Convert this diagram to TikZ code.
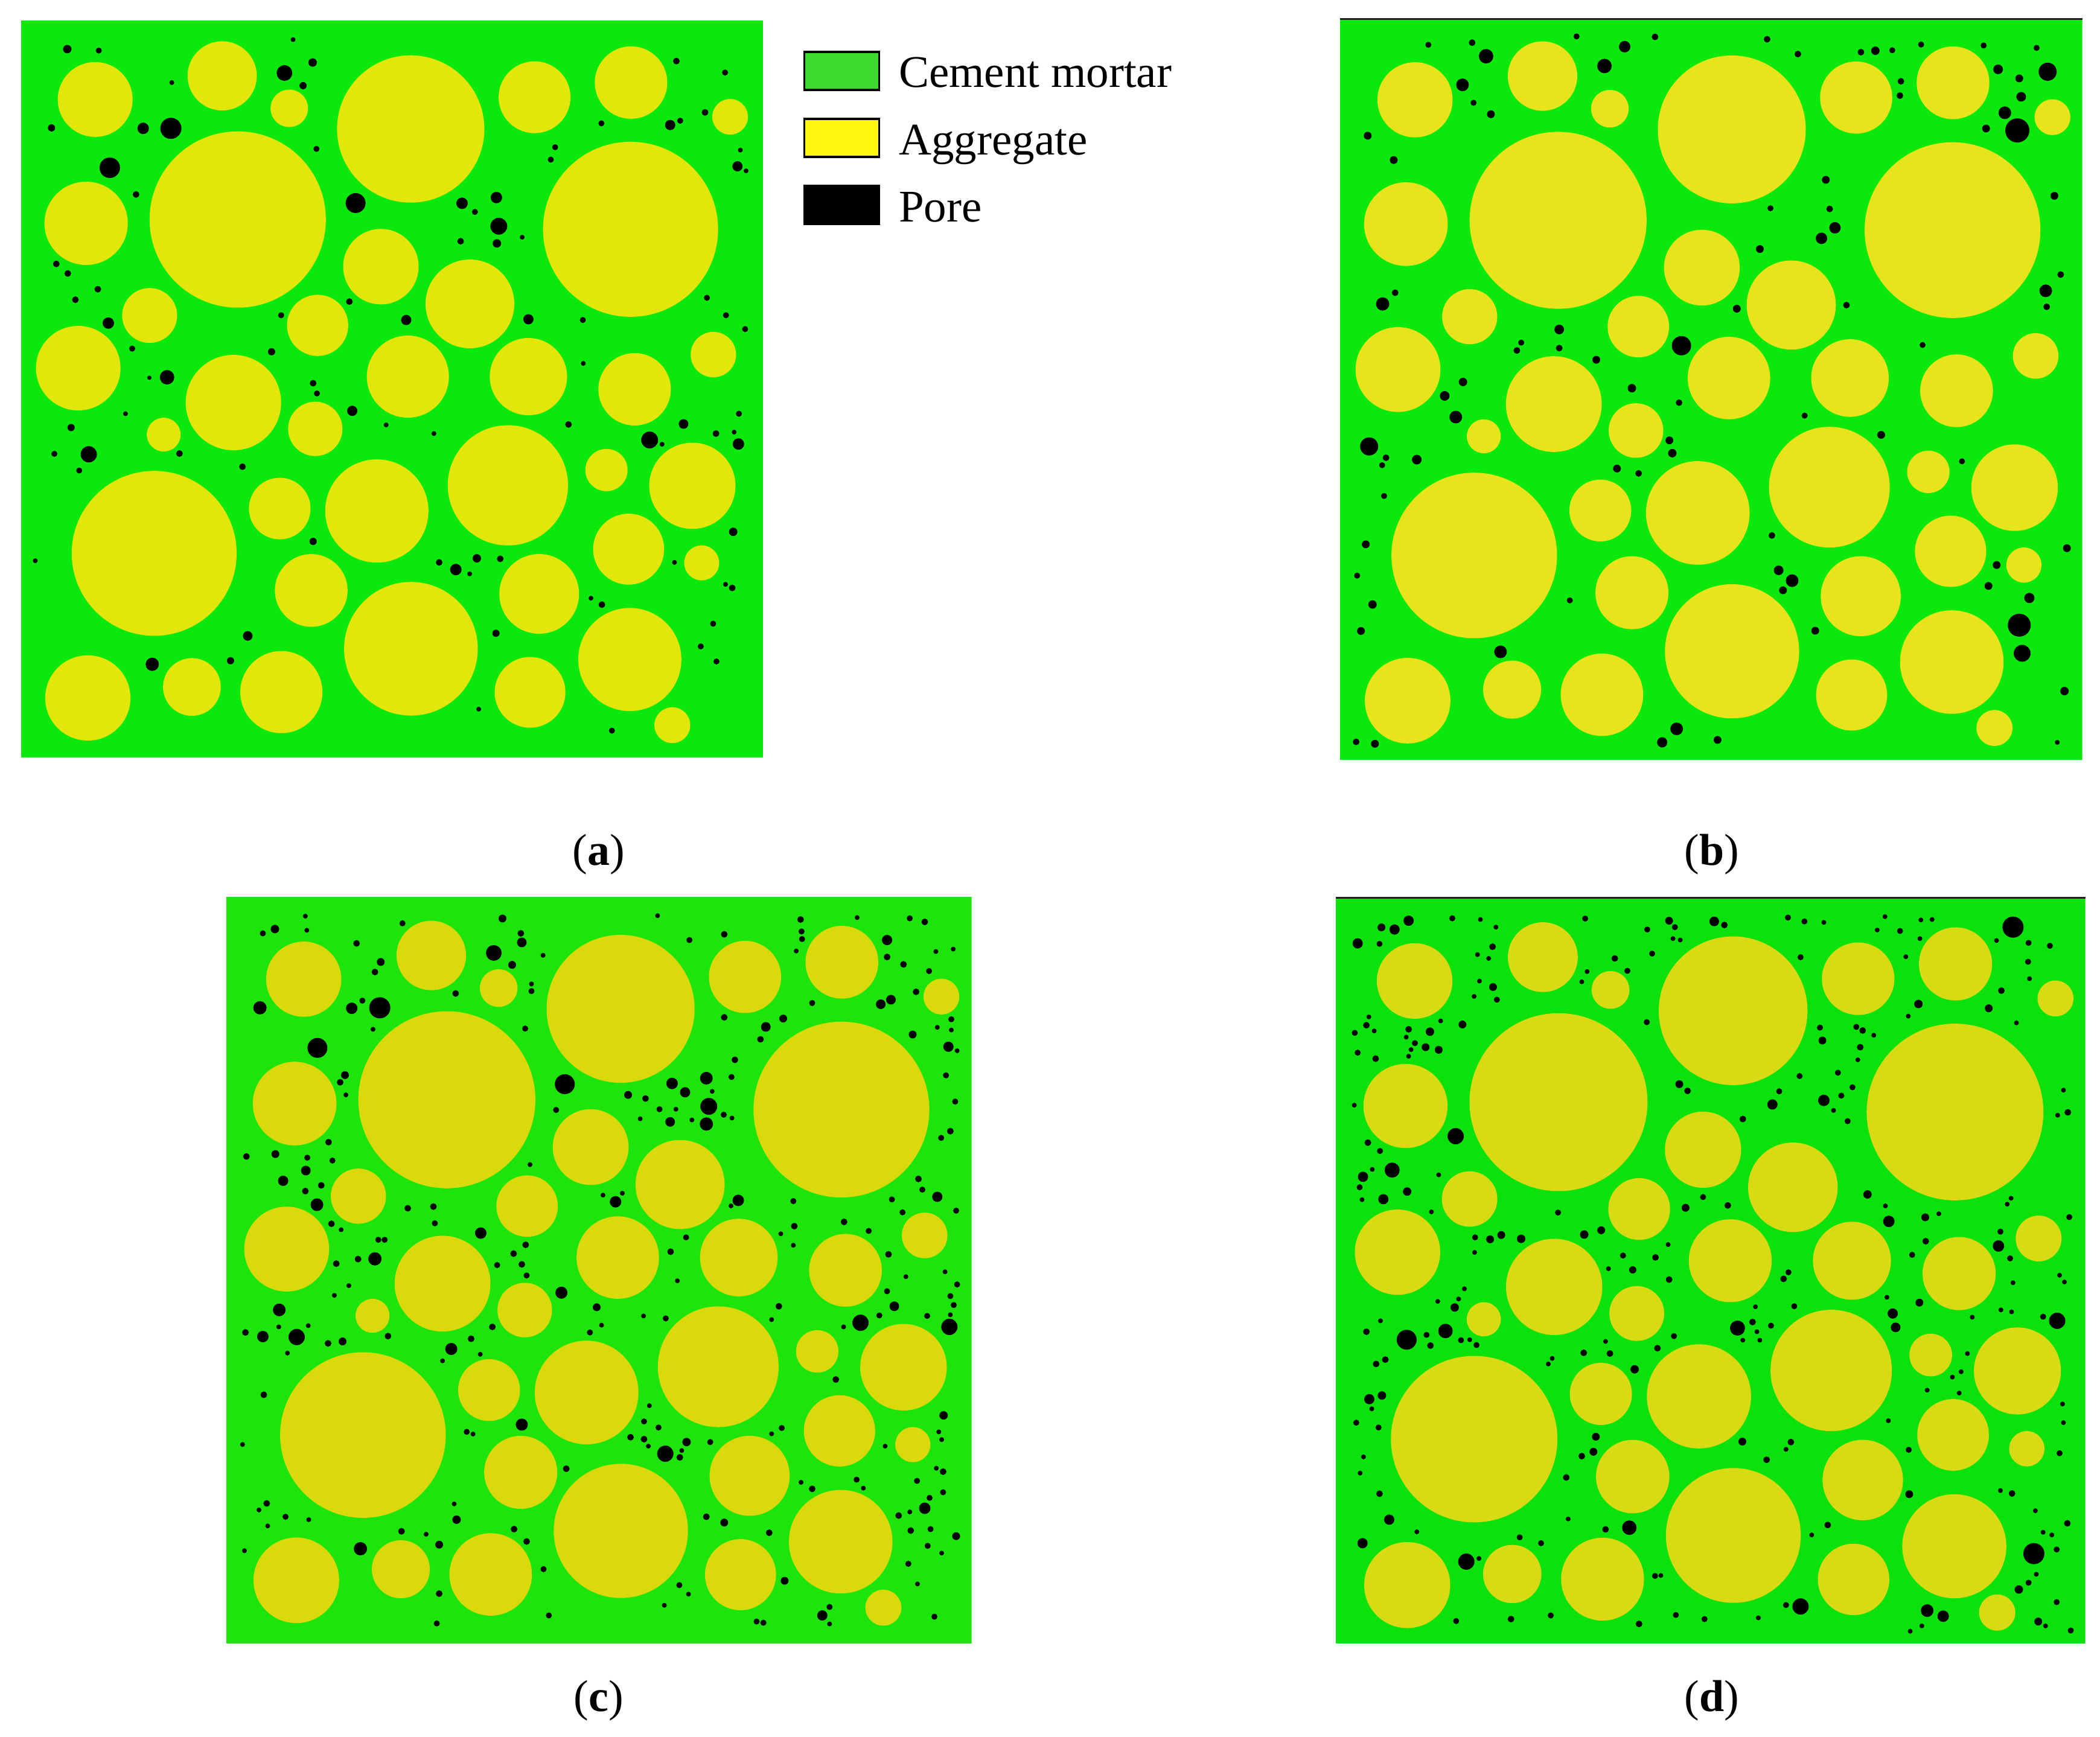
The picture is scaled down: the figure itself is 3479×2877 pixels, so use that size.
\documentclass[tikz,border=0pt]{standalone}
\usepackage{fontspec}
\setmainfont{Liberation Serif}
\definecolor{greenA}{HTML}{0BE80B}
\definecolor{yellowA}{HTML}{E3E60A}
\definecolor{greenB}{HTML}{0BE80B}
\definecolor{yellowB}{HTML}{E8E41C}
\definecolor{greenC}{HTML}{1DE40B}
\definecolor{yellowC}{HTML}{DAD90C}
\definecolor{greenD}{HTML}{0BE20B}
\definecolor{yellowD}{HTML}{D8DA14}
\definecolor{legGreen}{HTML}{3CDC2C}
\definecolor{legYellow}{HTML}{FFF70F}
\newcommand\aggcircles[1]{%
  \foreach \cx/\cy/\cr in {122.7/130.8/62, 333.1/91.7/57.3, 444.2/145.5/31, 645.4/179.7/122,
    850.6/127.1/59.5, 1010.4/102.8/60, 1174.5/159.5/29.5, 358.8/329.7/146, 107.7/336/69,
    1009.6/345.9/145, 596/407.8/62.5, 743.5/469.5/73.5, 212.9/488.7/45.5, 491.2/505.1/50.7,
    1146.8/553.5/37.6, 94.6/576/70, 351.7/633/79, 640.7/590/68, 840.4/590/64, 1016.3/611/60,
    236.2/686.1/28, 487.3/676.6/45, 806.4/770.1/99.6, 969.7/744.8/35, 1112/770.9/71.4,
    220.4/882.8/136.6, 428.4/808.6/51, 589.3/812.6/85.5, 1006.4/875.9/58.8, 1127.4/898.6/29,
    480.6/944.3/60.2, 858.2/950/66, 645.8/1040.9/110.7, 1008.4/1058.7/85.4, 110.5/1122.4/70.6,
    282.9/1104.2/47.8, 431.1/1112.7/68, 843.1/1113.1/58.6, 1078.8/1167.5/29.7}
  {\fill[#1] (\cx,\cy) circle[radius=\cr];}}
\newcommand\porefill[1]{%
  \foreach \px/\py/\pr in {#1} {\fill[pore] (\px,\py) circle[radius=\pr pt];}}
\tikzset{
  pore/.style={fill=black},
  legbox/.style={draw=black, line width=3.5pt, minimum width=124pt, minimum height=63pt, inner sep=0pt},
  legtext/.style={anchor=base west, inner sep=0pt, font=\fontsize{75}{88}\selectfont},
  captext/.style={anchor=base, inner sep=0pt, font=\fontsize{74}{88}\selectfont},
  topline/.style={line width=3pt, color=black!88}
}
\begin{document}
\begin{tikzpicture}[x=1pt,y=-1pt]
\useasboundingbox (0,0) rectangle (3479,2877);
\fill[white] (0,0) rectangle (3479,2877);

% ---------------- panel (a)
\begin{scope}
\clip (35,34) rectangle (1264,1255);
\fill[greenA] (35,34) rectangle (1264,1255);
\begin{scope}[shift={(35pt,-34pt)}] \aggcircles{yellowA} \end{scope}
\begin{scope}[shift={(30pt,-30pt)}, x=0.7908pt, y=-0.3954pt]
\porefill{103/130/7, 169/136/5, 576/90/4, 617/186/7, 558/230/13, 322/270/4, 597/283/6, 70/460/6, 262/462/9.5, 320/462/17.5, 625/548/5, 192/627/17, 247/739/5.5, 707/775/16.5, 930/776/9.5, 1002/752/9.5, 957/812/5, 1007/872/14, 927/935/5.5, 1003/944/7, 1056/918/4, 1125/541/5, 1116/593/5, 1222/441/5, 1366/448/8.5, 1387/430/5, 1439/395/5.5, 1379/180/5.5, 1481/228/5, 1513/553/4, 1507/621/8.5, 1525/640/4, 80/1030/5.5, 104/1070/5.5, 167/1136/5.5, 120/1180/5.5, 189/1278/9.5, 694/1188/5.5, 551/1245/5, 813/1265/8.5, 1069/1262/8.5, 1183/1265/5, 1443/1172/5, 1483/1245/5, 1523/1303/5, 239/1385/5, 531/1398/6, 1184/1447/4, 312/1505/12, 275/1507/3.5, 618/1530/5.5}
\end{scope}
\begin{scope}[shift={(30pt,-640pt)}, x=0.7908pt, y=-0.3954pt]
\porefill{626/30/5, 700/103/8.5, 225/115/4, 111/173/6, 771/162/4, 871/198/4, 1153/160/5.5, 1394/158/8, 1510/115/5, 1462/198/5.5, 1500/192/4, 1323/225/14, 1349/243/4, 1509/242/9.5, 76/283/5, 148/285/13.5, 338/282/5.5, 128/353/5, 470/337/5.5, 1498/610/7, 618/650/6, 36/731/4, 882/738/5.5, 961/721/7, 1010/723/5.5, 917/768/9.5, 946/786/4, 1375/738/4, 1482/830/4, 1496/845/5.5, 1200/888/4, 1223/915/5.5, 1456/995/5, 481/1046/8, 1001/1035/6, 1430/1090/5, 1463/1153/5, 281/1165/11, 445/1150/6, 965/1353/4, 1244/1443/5}
\end{scope}
\end{scope}

% ---------------- panel (b)
\begin{scope}
\clip (2219.5,31) rectangle (3449.6,1259);
\fill[greenB] (2219.5,31) rectangle (3449.6,1259);
\begin{scope}[shift={(2221pt,-34pt)}, scale=1.004] \aggcircles{yellowB} \end{scope}
\begin{scope}[shift={(2210pt,-20pt)}, x=0.7972pt, y=-0.3954pt]
\porefill{196/137/5, 287/128/5.5, 316/185/12, 504/102/5, 604/145/9.5, 667/104/5.5, 562/226/12, 267/305/10.5, 290/380/5, 326/428/6.5, 70/518/6.5, 124/620/6.5, 900/114/5.5, 964/176/5.5, 1095/168/5.5, 1125/162/7, 1160/160/5, 1220/136/5, 1350/140/5, 1460/150/5, 1178/290/5.5, 1176/350/5.5, 1380/240/8, 1424/278/6.5, 1483/250/15, 1428/355/8, 1394/422/10.5, 1355/488/6.5, 1420/496/20, 1022/703/6.5, 1497/770/6.5, 907/822/5, 1030/825/5.5, 1041/904/9.5, 1013/948/9.5, 885/993/6.5, 1510/1100/5.5, 1479/1168/10.5, 1481/1235/5.5, 127/1176/5.5, 101/1223/11, 837/1243/6.5, 1065/1228/5.5, 468/1330/8, 389/1385/5, 380/1418/5.5, 468/1408/5.5, 722/1398/16, 545/1457/6.5, 1223/1395/5, 268/1550/7}
\end{scope}
\begin{scope}[shift={(2210pt,-640pt)}, x=0.7972pt, y=-0.3986pt]
\porefill{619/8/7, 230/40/8, 717/68/5.5, 253/128/10.5, 978/122/5, 1137/202/6.5, 73/250/15, 108/297/5.5, 100/328/5, 172/305/8, 697/225/6.5, 703/278/7, 588/342/6.5, 633/362/5.5, 1305/312/5, 104/456/5, 910/620/5.5, 66/657/6.5, 1523/673/6.5, 48/787/5, 924/765/8, 952/808/10.5, 933/848/6.5, 1377/743/6.5, 1360/830/6.5, 1445/880/8.5, 490/890/5, 80/907/7, 1424/993/19, 56/1017/6.5, 1000/1016/6.5, 346/1104/10.5, 1430/1110/14, 1518/1267/7, 712/1424/10.5, 682/1480/8.5, 797/1470/6.5, 46/1478/5.5, 85/1486/6.5, 1503/1480/4}
\end{scope}
\end{scope}
\draw[topline] (2219.5,31.5) -- (3449.6,31.5);

% ---------------- panel (c)
\begin{scope}
\clip (374.6,1486) rectangle (1609.6,2723);
\fill[greenC] (374.6,1486) rectangle (1609.6,2723);
\begin{scope}[shift={(379.9pt,-1491pt)}, scale=1.0044] \aggcircles{yellowC} \end{scope}
\begin{scope}[shift={(365pt,-1480pt)}, x=0.8004pt, y=-0.3954pt]
\porefill{176/96/4, 113/150/7, 88/168/5, 179/155/4, 377/126/5, 584/106/6.5, 905/94/4, 282/210/5.5, 622/168/5.5, 624/206/8, 566/250/13, 332/288/6.5, 320/330/5.5, 604/300/6.5, 668/260/4, 82/480/11, 272/482/9.5, 294/450/5, 330/480/17.5, 487/420/5.5, 644/380/4, 644/410/5, 316/570/4, 631/567/5, 201/648/16.5, 258/762/6.5, 248/792/5.5, 260/845/4, 713/800/16.5, 844/845/6.5, 880/860/5.5, 935/797/9.5, 1006/775/10.5, 962/834/8.5, 1018/830/4, 1011/893/14, 909/905/5, 943/905/4, 869/945/4, 931/958/8, 976/950/4, 1006/967/11, 1042/928/5, 1059/942/4, 695/908/5, 1065/698/5.5, 1058/770/5, 1043/520/5.5, 1129/560/8, 1118/612/5.5, 1165/525/6.5, 1043/172/5.5, 971/196/5, 1201/110/5.5, 1203/160/5, 1204/192/5, 1192/242/4, 1318/102/4, 1427/105/5, 1458/120/5.5, 1380/196/8.5, 1380/267/5.5, 1414/298/5.5, 1481/244/4, 1517/234/4, 1467/326/5, 1225/460/5, 1367/465/8, 1388/446/8, 1440/413/5.5, 1513/528/5, 1484/562/4, 1513/573/4, 1433/592/6.5, 1507/643/8.5, 1525/660/4, 1502/763/5, 1521/873/5, 1511/997/5.5, 1492/1025/5, 224/1043/5.5, 54/1103/5.5, 114/1093/6.5, 180/1108/5, 232/1120/5, 177/1162/8, 130/1205/8.5, 209/1224/5.5, 176/1248/5.5, 200/1305/10.5, 641/1137/4, 230/1385/5.5, 250/1410/4, 388/1320/5.5, 441/1313/5.5, 444/1383/5, 539/1424/9.5, 327/1452/5, 340/1452/5, 320/1532/11, 285/1533/5.5, 240/1552/5.5, 632/1473/5.5, 607/1510/5.5, 573/1558/5, 624/1555/5.5, 792/1265/4, 818/1293/9.5, 832/1257/4, 1072/1287/9.5, 1057/1310/4, 1186/1290/5, 1188/1395/5.5, 1160/1427/4, 1186/1475/4, 964/1442/5, 932/1502/5.5, 1291/1377/5.5, 1342/1415/5, 1390/1283/5, 1412/1337/5, 1445/1197/5.5, 1453/1242/5, 1484/1272/8.5, 1523/1330/5, 1383/1513/5.5}
\end{scope}
\begin{scope}[shift={(365pt,-2100pt)}, x=0.8004pt, y=-0.4018pt]
\porefill{634/33/5, 266/75/4, 236/115/4, 706/104/10, 122/175/10.5, 779/164/6.5, 946/55/4, 52/268/5.5, 88/285/9.5, 158/287/13.5, 121/245/4, 182/240/4, 223/313/5.5, 253/305/6.5, 139/353/4, 347/283/5.5, 519/294/5.5, 563/245/5.5, 478/336/10, 460/385/4, 538/358/4, 789/238/4, 765/268/5, 876/200/4, 922/210/5, 1156/160/5.5, 1141/215/4, 1380/98/5, 1419/38/4, 1395/160/8, 1364/198/5, 1325/228/13.5, 1290/245/4, 1463/200/5, 1509/245/13.5, 1500/18/4, 1525/70/5, 1511/118/5, 1518/155/5, 1511/195/4, 1274/462/5.5, 90/525/5.5, 1497/610/7, 624/648/10, 510/678/5, 523/687/4, 46/730/4, 888/570/4, 877/635/5, 907/660/5, 849/700/5.5, 877/708/5.5, 886/737/4, 965/720/7, 921/768/13.5, 951/783/5.5, 955/755/4, 1014/720/5, 1162/662/5, 1141/686/4, 1487/678/4, 1493/710/4, 1376/737/4, 716/830/5.5, 1482/828/4, 1496/842/5.5, 1442/880/5, 1202/886/4, 1225/913/5.5, 1317/875/5, 1331/910/4, 1496/927/5, 1468/950/5, 1458/993/9.5, 1427/1008/4, 1404/1023/5.5, 96/973/5.5, 80/1000/4, 135/1028/5, 183/1040/4, 98/1066/4, 484/975/4, 489/1040/7, 375/1088/5.5, 426/1100/4, 453/1143/6.5, 608/1079/5.5, 634/1130/5.5, 290/1160/11, 50/1168/4, 1006/1028/5.5, 1043/1052/6.5, 1136/1094/5.5, 1429/1085/5.5, 1470/1079/5, 1523/1108/6.5, 1464/1148/5, 1493/1178/4, 1424/1222/5, 669/1244/5, 1168/1292/6.5, 1443/1305/4, 950/1310/5, 969/1347/4, 453/1345/5.5, 919/1393/4, 680/1435/5, 1261/1400/5, 1246/1435/8.5, 1261/1470/4, 1110/1460/5, 1124/1465/5, 1478/1440/5, 448/1468/5}
\end{scope}
\end{scope}

% ---------------- panel (d)
\begin{scope}
\clip (2213,1487) rectangle (3454.6,2723);
\fill[greenD] (2213,1487) rectangle (3454.6,2723);
\begin{scope}[shift={(2219.7pt,-1493.3pt)}, scale=1.0094] \aggcircles{yellowD} \end{scope}
\begin{scope}[shift={(2205pt,-1480pt)}, x=0.8036pt, y=-0.3954pt]
\porefill{160/115/8.5, 104/143/6.5, 131/152/8.5, 250/105/5, 308/110/4, 340/142/4, 55/210/8.5, 100/212/5, 524/106/5, 697/115/6.5, 709/142/5, 652/152/5, 705/190/4, 720/196/4, 790/118/8, 811/133/5.5, 942/102/5, 976/118/5, 1016/122/4, 1142/98/4, 1126/154/4, 1173/158/5, 1216/112/4, 1239/110/4, 1214/190/4, 1406/142/17.5, 1372/198/4, 1438/208/5, 1482/220/5, 333/224/5.5, 302/257/4, 325/273/4, 585/273/5.5, 662/253/5, 528/328/4, 611/325/5, 517/371/4, 306/368/4, 334/393/6.5, 295/432/4, 342/446/5, 968/268/5, 1185/266/4, 1437/287/5, 1440/358/4, 1382/408/5.5, 1211/464/7, 1356/482/6.5, 1190/515/4, 1413/543/4, 651/540/5, 78/518/4, 73/553/5.5, 89/577/4, 49/585/5, 160/570/5.5, 204/580/7, 271/550/6.5, 226/535/4, 155/603/4, 173/628/5, 195/645/6.5, 222/656/6.5, 165/655/4, 160/683/4, 55/668/5, 92/693/5.5, 1008/563/5, 1013/617/6.5, 1083/560/5, 1096/575/5.5, 1119/595/4, 1091/645/5.5, 1086/698/4, 1045/752/5, 966/766/5, 718/800/6.5, 735/828/5.5, 924/830/5, 910/885/8.5, 1016/868/9.5, 1052/848/5, 1075/813/5, 1036/910/4, 849/946/5.5, 1065/955/5, 48/888/4, 257/1018/13.5, 76/1045/5.5, 101/1080/5, 1510/825/4, 1498/930/4, 1519/918/5.5, 126/1160/12.5, 66/1188/8.5, 85/1157/4, 59/1232/5, 157/1250/7, 108/1282/8.5, 64/1284/4, 222/1180/4, 207/1335/4, 468/1338/5, 767/1273/5, 731/1318/6.5, 818/1308/5.5, 1106/1262/7, 1143/1310/4, 1150/1375/9.5, 1225/1358/6.5, 1253/1343/4, 1402/1278/4, 1394/1303/4, 1522/1357/5, 1380/1418/5, 1226/1458/5.5, 1376/1478/9.5, 1198/1515/5, 1400/1530/5, 297/1442/5, 328/1450/6.5, 351/1432/6.5, 392/1448/7, 522/1430/7, 557/1412/6.5, 695/1472/4, 296/1505/4, 602/1518/5, 669/1526/5.5}
\end{scope}
\begin{scope}[shift={(2205pt,-2100pt)}, x=0.8036pt, y=-0.4018pt]
\porefill{622/10/6, 572/5/4, 697/50/5.5, 943/20/5, 933/47/5.5, 1502/32/4, 1512/60/4, 1406/63/4, 275/88/4, 263/130/4, 220/140/4, 255/165/7, 102/220/4, 73/265/5.5, 156/298/16.5, 197/278/5, 236/262/12, 205/322/5.5, 268/300/5, 286/298/4, 300/320/5, 112/380/5.5, 93/398/5.5, 875/162/4, 955/160/5, 1146/123/4, 1213/145/6.5, 1158/190/8.5, 1164/247/8, 838/250/12.5, 869/225/5.5, 907/240/5, 878/265/4, 849/300/4, 884/300/4, 707/283/5, 566/305/4, 673/333/5.5, 521/352/5.5, 575/355/5.5, 456/375/4, 448/398/4, 626/420/7, 1381/175/4, 1403/183/4, 1468/203/5, 1497/220/13.5, 1322/205/4, 1312/355/4, 1299/430/4, 1281/452/4, 1229/506/4, 1295/518/4, 79/543/8.5, 105/528/7, 84/583/4, 52/640/5, 98/660/5, 1508/563/4, 1510/640/4, 1149/632/4, 546/698/6.5, 541/760/6.5, 517/778/5.5, 848/718/6.5, 948/720/5.5, 938/750/4, 898/793/5.5, 1191/752/5, 1502/766/5, 67/781/4, 60/848/4, 485/866/5.5, 100/933/5.5, 1192/935/6.5, 1380/920/4, 1404/932/5.5, 1452/1003/4, 120/1040/8.5, 489/1037/4, 177/1090/4, 615/1073/12, 566/1080/5.5, 1024/1062/5.5, 991/1103/4, 1518/1055/5.5, 1468/1092/4, 1486/1103/4, 65/1137/8.5, 389/1113/5, 433/1137/5, 1449/1180/17.5, 1496/1163/5, 279/1213/13.5, 305/1200/4, 668/1272/5, 680/1270/4, 1454/1265/4, 1438/1300/5, 1418/1328/7, 1496/1380/5, 938/1392/5, 968/1398/13.5, 1229/1415/10.5, 1262/1438/9.5, 258/1458/5, 371/1450/5.5, 453/1435/5, 711/1433/5, 770/1450/5, 881/1445/4, 635/1470/5.5, 1218/1478/4, 1194/1500/4, 1458/1460/6.5, 1473/1478/4, 1525/1497/5}
\end{scope}
\end{scope}
\draw[topline] (2213,1487.5) -- (3454.6,1487.5);

% ---------------- legend
\node[legbox, fill=legGreen] (boxmortar) at (1394.5,117.5) {};
\node[legbox, fill=legYellow] (boxagg) at (1394.5,228.5) {};
\node[legbox, fill=black] (boxpore) at (1394.5,339.5) {};
\node[legtext] (txtmortar) at (1489,145) {Cement mortar};
\node[legtext] (txtagg) at (1489,256) {Aggregate};
\node[legtext] (txtpore) at (1489,367) {Pore};

% ---------------- captions
\node[captext] (capa) at (992,1433) {(\textbf{a})};
\node[captext] (capb) at (2836,1433) {(\textbf{b})};
\node[captext] (capc) at (992,2835) {(\textbf{c})};
\node[captext] (capd) at (2836,2835) {(\textbf{d})};
\end{tikzpicture}
\end{document}
